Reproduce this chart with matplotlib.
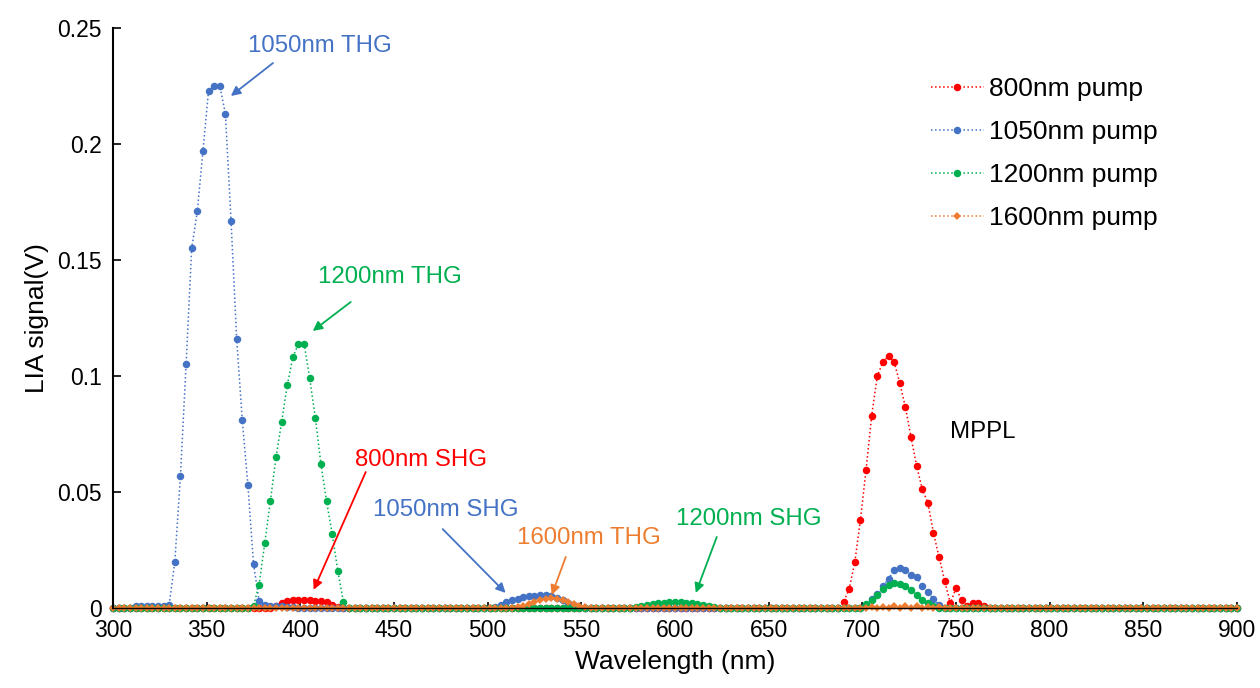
import matplotlib
matplotlib.use("Agg")
import matplotlib.pyplot as plt
import numpy as np
from matplotlib.ticker import FuncFormatter

plt.rcParams['font.family'] = ['Liberation Sans', 'DejaVu Sans']

# spectra sampled every 3 nm from 300 to 900 nm, zero outside the listed points
wl = np.arange(300, 901, 3)

# 800nm pump (SHG + MPPL)
red_wl = [387, 390, 393, 396, 399, 402, 405, 408, 411, 414, 417, 420,
          690, 693, 696, 699, 702, 705, 708, 711, 714, 717, 720, 723, 726,
          729, 732, 735, 738, 741, 744, 747, 750, 753, 756, 759, 762, 765]
red_val = [0.001, 0.002, 0.0028, 0.0033, 0.0035, 0.0035, 0.0034, 0.0032, 0.003, 0.0025, 0.0015, 0.0005,
           0.0026, 0.0082, 0.0198, 0.038, 0.0595, 0.0828, 0.100, 0.106, 0.1086, 0.106, 0.097, 0.0866, 0.0737,
           0.0612, 0.0513, 0.0453, 0.0323, 0.022, 0.0116, 0.002, 0.0086, 0.0034, 0.001, 0.002, 0.002, 0.001]

# 1050nm pump (THG, SHG, MPPL)
blue_wl = [312, 315, 318, 321, 324, 327, 330, 333, 336, 339, 342, 345, 348, 351, 354, 357, 360,
           363, 366, 369, 372, 375, 378, 381, 384, 387, 390, 393, 396,
           504, 507, 510, 513, 516, 519, 522, 525, 528, 531, 534, 537, 540, 543, 546, 549,
           702, 705, 708, 711, 714, 717, 720, 723, 726, 729, 732, 735, 738, 741]
blue_val = [0.001, 0.001, 0.001, 0.001, 0.001, 0.001, 0.0015, 0.020, 0.057, 0.105, 0.155, 0.171, 0.197, 0.223, 0.225, 0.225, 0.213,
            0.167, 0.116, 0.081, 0.053, 0.019, 0.003, 0.0015, 0.001, 0.001, 0.0008, 0.0006, 0.0005,
            0.0005, 0.0015, 0.0025, 0.0033, 0.004, 0.0046, 0.005, 0.0053, 0.0055, 0.0055, 0.0052, 0.0045, 0.0035, 0.0022, 0.0012, 0.0005,
            0.0015, 0.0039, 0.006, 0.0095, 0.0125, 0.0164, 0.0172, 0.0164, 0.0142, 0.0134, 0.0095, 0.0069, 0.0039, 0.0013]

# 1200nm pump (THG, SHG, MPPL)
green_wl = [375, 378, 381, 384, 387, 390, 393, 396, 399, 402, 405, 408, 411, 414, 417, 420, 423,
            579, 582, 585, 588, 591, 594, 597, 600, 603, 606, 609, 612, 615, 618, 621, 624,
            702, 705, 708, 711, 714, 717, 720, 723, 726, 729, 732, 735, 738]
green_val = [0.001, 0.010, 0.028, 0.046, 0.065, 0.080, 0.096, 0.108, 0.114, 0.114, 0.099, 0.082, 0.062, 0.046, 0.032, 0.016, 0.0026,
             0.0004, 0.0008, 0.0012, 0.0016, 0.002, 0.0023, 0.0025, 0.0026, 0.0025, 0.0023, 0.002, 0.0016, 0.0012, 0.0008, 0.0005, 0.0002,
             0.0017, 0.0034, 0.0056, 0.0082, 0.0099, 0.0108, 0.0103, 0.0095, 0.0078, 0.0056, 0.0034, 0.0022, 0.0009]

# 1600nm pump (THG + weak MPPL)
orange_wl = [516, 519, 522, 525, 528, 531, 534, 537, 540, 543, 546, 549, 552,
             705, 711, 717, 723, 729, 735, 741]
orange_val = [0.0005, 0.001, 0.0018, 0.0026, 0.0034, 0.004, 0.0043, 0.004, 0.0034, 0.0025, 0.0016, 0.0008, 0.0003,
              0.0004, 0.0006, 0.0008, 0.0008, 0.0007, 0.0005, 0.0003]

labels = ['800nm pump', '1050nm pump', '1200nm pump', '1600nm pump']
colors = ['#FF0000', '#4472C4', '#00B050', '#ED7D31']
markers = ['o', 'o', 'o', 'D']


def full(pw, pv):
    s = np.zeros(len(wl))
    s[np.isin(wl, pw)] = pv
    return s


series = [full(red_wl, red_val), full(blue_wl, blue_val),
          full(green_wl, green_val), full(orange_wl, orange_val)]

fig = plt.figure(figsize=(12.6, 6.88), dpi=100)
ax = fig.add_axes([0.0897, 0.1163, 0.8920, 0.8430])

for s, lab, c, m in zip(series, labels, colors, markers):
    ms = 5.4 if m == 'o' else 4.2
    ax.plot(wl, s, linestyle=':', linewidth=1.1, color=c, marker=m,
            markersize=ms, markeredgewidth=0, label=lab, clip_on=False)

ax.set_xlim(300, 900)
ax.set_ylim(0, 0.25)
ax.set_xticks(np.arange(300, 901, 50))
ax.set_yticks([0, 0.05, 0.1, 0.15, 0.2, 0.25])
ax.yaxis.set_major_formatter(FuncFormatter(lambda v, p: '{:g}'.format(round(v, 3))))
ax.tick_params(axis='both', direction='in', labelsize=16.5, width=1.2)
ax.tick_params(axis='y', length=6, pad=8)
ax.tick_params(axis='x', length=4, pad=8)
for side in ['top', 'right']:
    ax.spines[side].set_visible(False)
ax.spines['left'].set_linewidth(1.5)
ax.spines['bottom'].set_linewidth(1.0)

ax.set_xlabel('Wavelength (nm)', fontsize=19, labelpad=6)
ax.set_ylabel('LIA signal(V)', fontsize=19, labelpad=6)

# peak annotations: (text, colour, text pos, arrow tail, arrow head)
notes = [
    ('1050nm THG', colors[1], (410.6, 0.2422), (385.4, 0.2349), (362.9, 0.2207)),
    ('1200nm THG', colors[2], (447.7, 0.1427), (426.9, 0.1319), (406.6, 0.1194)),
    ('800nm SHG', colors[0], (464.3, 0.0638), (434.9, 0.0586), (407.1, 0.0078)),
    ('1050nm SHG', colors[1], (477.6, 0.0422), (476.0, 0.0340), (509.6, 0.0065)),
    ('1600nm THG', colors[3], (554.0, 0.0302), (541.7, 0.0220), (534.2, 0.0056)),
    ('1200nm SHG', colors[2], (639.4, 0.0384), (622.3, 0.0306), (611.1, 0.0065)),
]
for txt, c, tp, tail, head in notes:
    ax.text(tp[0], tp[1], txt, color=c, fontsize=17.3, ha='center', va='center')
    ax.annotate('', xy=head, xytext=tail,
                arrowprops=dict(arrowstyle='-|>', color=c, lw=1.3,
                                mutation_scale=14, shrinkA=0, shrinkB=0))
ax.text(764.2, 0.0759, 'MPPL', color='black', fontsize=17.3, ha='center', va='center')

ax.legend(loc='upper left', bbox_to_anchor=(0.72, 0.922), bbox_transform=fig.transFigure,
          frameon=False, fontsize=19, handlelength=2.0, handletextpad=0.2, labelspacing=0.72)

fig.savefig('out.png', dpi=100)
